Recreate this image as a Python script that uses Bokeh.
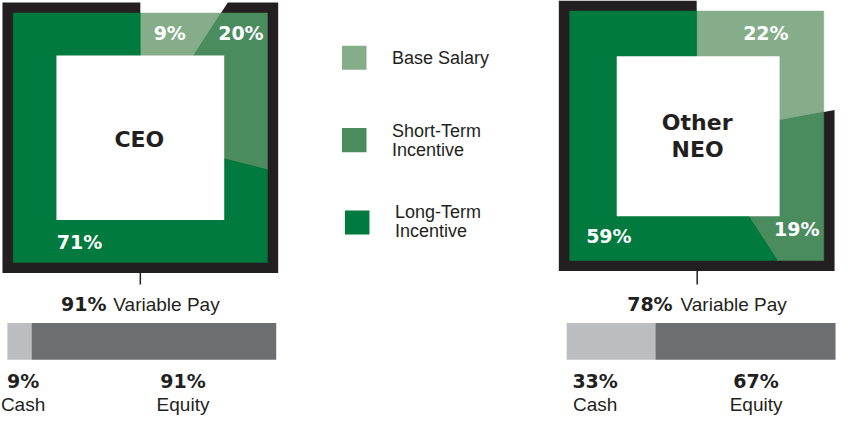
import math
from bokeh.plotting import figure
from bokeh.models import Range1d
from bokeh.core.properties import value
from bokeh.embed import file_html
from bokeh.resources import INLINE

# ---------------- data ----------------
components = ["Base Salary", "Short-Term Incentive", "Long-Term Incentive"]
legend_lines = [["Base Salary"], ["Short-Term", "Incentive"], ["Long-Term", "Incentive"]]
ceo_mix = [9, 20, 71]
neo_mix = [22, 19, 59]
group_titles = [["CEO"], ["Other", "NEO"]]
variable_pay = [91, 78]
pay_types = ["Cash", "Equity"]
ceo_cash_equity = [9, 91]
neo_cash_equity = [33, 67]

# ---------------- styles / layout ----------------
GREENS = ["#85ad89", "#4b8c5f", "#007a3e"]
FRAME = "#231f20"
GRAYS = ["#bcbdc0", "#6d6e72"]
TXT = "#231f20"
BOLD = value("DejaVu Sans")
REG = value("Liberation Sans")

p = figure(width=837, height=416, output_backend="svg", toolbar_location=None,
           x_range=Range1d(0, 853), y_range=Range1d(432, 0),
           min_border=0, outline_line_color=None, title=None)
p.axis.visible = False
p.grid.visible = False
p.background_fill_color = "white"
p.border_fill_color = "white"


def square_wedge(cx, cy, h, f0, f1):
    """Polygon of a pie wedge (fractions clockwise from top) clipped to a square."""
    t0, t1 = f0 * 2 * math.pi, f1 * 2 * math.pi
    angles = [t0]
    for k in range(8):
        c = math.pi / 4 + k * math.pi / 2
        if t0 < c < t1:
            angles.append(c)
    angles.append(t1)
    xs, ys = [cx], [cy]
    for t in angles:
        s, c = math.sin(t), math.cos(t)
        m = max(abs(s), abs(c))
        xs.append(cx + h * s / m)
        ys.append(cy - h * c / m)
    return xs, ys


charts = [
    dict(mix=ceo_mix, c=(142.5, 142.5), frame=140.5, outer=129.5, inner=(142.5, 142.5, 85.5),
         labels=[(172.5, 34), (245, 34), (80.5, 251)], title_pos=[(141.5, 144)],
         tick=(142.5, 283, 295)),
    dict(mix=neo_mix, c=(709.5, 140.5), frame=140.5, outer=129.5, inner=(711, 141, 83),
         labels=[(780, 33.5), (811.5, 237), (620, 244.5)], title_pos=[(710, 126.5), (710.5, 154.5)],
         tick=(710, 281, 295)),
]

for i, ch in enumerate(charts):
    cx, cy = ch["c"]
    mix = ch["mix"]
    total = float(sum(mix))
    # black frame behind everything except the base-salary wedge
    fx, fy = square_wedge(cx, cy, ch["frame"], mix[0] / total, 1.0)
    p.patch(fx, fy, fill_color=FRAME, line_color=None)
    # green wedges
    cum = 0.0
    xs_list, ys_list = [], []
    for v in mix:
        xs, ys = square_wedge(cx, cy, ch["outer"], cum / total, (cum + v) / total)
        xs_list.append(xs)
        ys_list.append(ys)
        cum += v
    p.patches(xs_list, ys_list, fill_color=GREENS, line_color=GREENS, line_width=0.5)
    # inner white square
    ix, iy, ih = ch["inner"]
    p.rect(x=[ix], y=[iy], width=2 * ih, height=2 * ih, fill_color="white", line_color=None)
    # percentage labels
    p.text(x=[pt[0] for pt in ch["labels"]], y=[pt[1] for pt in ch["labels"]],
           text=[f"{v}%" for v in mix], text_color="white", text_font=BOLD,
           text_font_style="bold", text_font_size="19px", text_align="center",
           text_baseline="middle")
    # title in the center
    p.text(x=[pt[0] for pt in ch["title_pos"]], y=[pt[1] for pt in ch["title_pos"]],
           text=group_titles[i], text_color=TXT, text_font=BOLD, text_font_style="bold",
           text_font_size="22px", text_align="center", text_baseline="middle")
    # tick below chart
    tx, ty0, ty1 = ch["tick"]
    p.segment(x0=[tx], y0=[ty0], x1=[tx], y1=[ty1], line_color=FRAME, line_width=1.5)

# ---------------- legend ----------------
leg_sq = [(360.5, 59.5), (360.5, 145), (363.5, 230.5)]
p.rect(x=[s[0] for s in leg_sq], y=[s[1] for s in leg_sq], width=25, height=25,
       fill_color=GREENS, line_color=None)
leg_text_pos = [[(399, 59.5)], [(399, 135.5), (399, 155.5)], [(402, 220), (402, 239)]]
lx, ly, lt = [], [], []
for lines, poss in zip(legend_lines, leg_text_pos):
    for t, (x, y) in zip(lines, poss):
        lx.append(x); ly.append(y); lt.append(t)
p.text(x=lx, y=ly, text=lt, text_color=TXT, text_font=REG, text_font_size="18px",
       text_align="left", text_baseline="middle")

# ---------------- variable pay + cash/equity bars ----------------
bars = [
    dict(vals=ceo_cash_equity, x0=7, x1=281, vp_split=(108, 115),
         lab_x=[23, 186]),
    dict(vals=neo_cash_equity, x0=577, x1=851, vp_split=(685, 693),
         lab_x=[606, 770]),
]
for i, b in enumerate(bars):
    xr, xl = b["vp_split"]
    p.text(x=[xr], y=[315.5], text=[f"{variable_pay[i]}%"], text_color=TXT, text_font=BOLD,
           text_font_style="bold", text_font_size="19px", text_align="right",
           text_baseline="middle")
    p.text(x=[xl], y=[315.5], text=["Variable Pay"], text_color=TXT, text_font=REG,
           text_font_size="19px", text_align="left", text_baseline="middle")
    total = float(sum(b["vals"]))
    span = b["x1"] - b["x0"]
    lefts, rights, cum = [], [], 0.0
    for v in b["vals"]:
        lefts.append(b["x0"] + span * cum / total)
        cum += v
        rights.append(b["x0"] + span * cum / total)
    p.quad(left=lefts, right=rights, top=[335] * 2, bottom=[373] * 2,
           fill_color=GRAYS, line_color=None)
    p.text(x=b["lab_x"], y=[395.5, 395.5], text=[f"{v}%" for v in b["vals"]], text_color=TXT,
           text_font=BOLD, text_font_style="bold", text_font_size="19px",
           text_align="center", text_baseline="middle")
    p.text(x=b["lab_x"], y=[420, 420], text=pay_types, text_color=TXT, text_font=REG,
           text_font_size="19px", text_align="center", text_baseline="middle")

open("out.html", "w").write(file_html(p, INLINE))
